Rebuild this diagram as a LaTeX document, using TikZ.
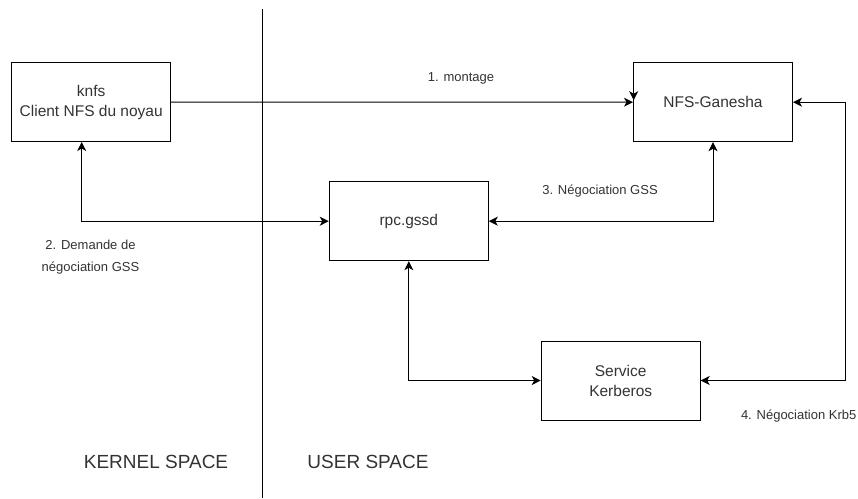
\documentclass[tikz,border=0pt]{standalone}
\usepackage{fontspec}
\setmainfont{Liberation Sans}
\usetikzlibrary{arrows.meta}
\definecolor{txt}{HTML}{333333}
\tikzset{
  box/.style={draw=black, line width=1pt, fill=white, minimum width=159pt, minimum height=79pt, align=center, text=txt, font=\fontsize{15.5}{20}\selectfont, inner sep=0pt},
  lbl/.style={text=txt, font=\fontsize{13}{22}\selectfont, align=center, inner sep=0pt},
  big/.style={text=txt, font=\fontsize{19}{22}\selectfont, inner sep=0pt},
  conn/.style={line width=1pt, draw=black},
  tip/.tip={Stealth[length=9pt,width=9pt,inset=2.5pt]}
}
\begin{document}
\begin{tikzpicture}[x=1pt,y=-1pt]
\useasboundingbox (0,0) rectangle (858,498);
\fill[white] (0,0) rectangle (858,498);
% divider
\coordinate (divtop) at (262.7,9);
\coordinate (divbot) at (262.7,498);
\draw[line width=1pt] (divtop) -- (divbot);
% boxes
\node[box] (knfs) at (91.2,102) {knfs\\Client NFS du noyau};
\node[box] (ganesha) at (713,102.2) {NFS-Ganesha};
\node[box] (rpc) at (408.8,221.2) {rpc.gssd};
\node[box] (krb) at (620.7,380.5) {Service\\Kerberos};
% connectors
\draw[conn,-tip] (knfs.east) -- (ganesha.west);
\draw[conn,-tip] ([xshift=0.7pt]ganesha.north west) -- ([xshift=0.7pt,yshift=-38pt]ganesha.north west);
\draw[conn,tip-tip] ([xshift=-9.5pt]knfs.south) |- (rpc.west);
\draw[conn,tip-tip] (rpc.east) -| (ganesha.south);
\draw[conn,tip-tip] (rpc.south) |- (krb.west);
\coordinate (rc) at (845.7,102.2);
\draw[conn,tip-tip] (ganesha.east) -- (rc) |- (krb.east);
% labels
\node[lbl] (l1) at (461,78.3) {1. montage};
\node[lbl] (l2) at (90.5,257) {2. Demande de\\négociation GSS};
\node[lbl] (l3) at (600,190.7) {3. Négociation GSS};
\node[lbl] (l4) at (798.7,416) {4. Négociation Krb5};
\node[big] (ks) at (156,461.7) {KERNEL SPACE};
\node[big] (us) at (368,461.7) {USER SPACE};
\end{tikzpicture}
\end{document}
